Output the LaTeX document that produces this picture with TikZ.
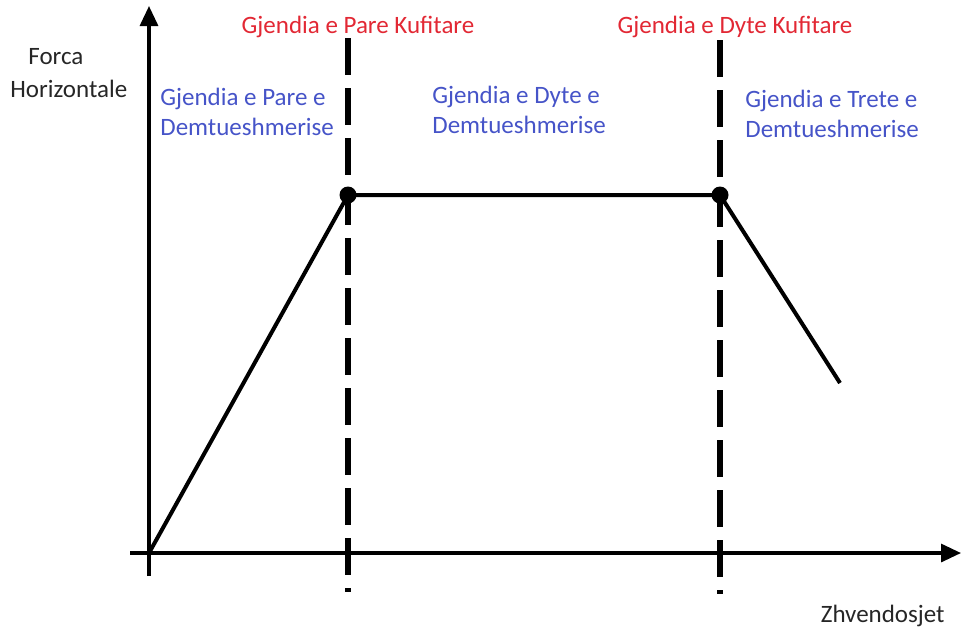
\documentclass[tikz,border=0pt]{standalone}
\usepackage{fontspec}
\setmainfont{Carlito}
\usetikzlibrary{arrows.meta}
\definecolor{limitred}{RGB}{226,40,52}
\definecolor{stateblue}{RGB}{70,84,200}
\tikzset{
  axis/.style={line width=1.6pt,-{Triangle[length=10pt,width=9pt]}},
  curve/.style={line width=2pt,line join=miter},
  limitline/.style={line width=3pt,dash pattern=on 18.5pt off 6.5pt},
  kink/.style={circle,fill=black,inner sep=0pt,minimum size=8.5pt},
  limitlabel/.style={text=limitred,font=\fontsize{12.5}{15}\selectfont,inner sep=0pt},
  statelabel/.style={text=stateblue,font=\fontsize{12.5}{15}\selectfont,align=left,inner sep=0pt,anchor=north west},
  axislabel/.style={text=black!85,font=\fontsize{12.5}{15}\selectfont,inner sep=0pt}
}
\begin{document}
\begin{tikzpicture}[x=0.5pt,y=-0.5pt]
  \useasboundingbox (0,0) rectangle (961,628);
  % axes
  \coordinate (o) at (149,553);
  \coordinate (ybot) at (149,576);
  \coordinate (ytop) at (149,6);
  \coordinate (xleft) at (130,553);
  \coordinate (xright) at (961,553);
  \draw[axis] (ybot) -- (ytop);
  \draw[axis] (xleft) -- (xright);
  % limit lines
  \coordinate (l1top) at (348,38);
  \coordinate (l1bot) at (348,592);
  \coordinate (l2top) at (720,40);
  \coordinate (l2bot) at (720,594);
  \draw[limitline] (l1top) -- (l1bot);
  \draw[limitline] (l2top) -- (l2bot);
  % force-displacement curve
  \node[kink] (k1) at (348,195) {};
  \node[kink] (k2) at (720,195) {};
  \coordinate (e) at (840,383);
  \draw[curve] (o) -- (k1.center) -- (k2.center) -- (e);
  % labels
  \node[axislabel,anchor=base west] (fy1) at (28,64) {Forca};
  \node[axislabel,anchor=base west] (fy2) at (10,97) {Horizontale};
  \node[axislabel,anchor=base east] (fx) at (945,622) {Zhvendosjet};
  \node[limitlabel,anchor=base] (lab1) at (358,33) {Gjendia e Pare Kufitare};
  \node[limitlabel,anchor=base] (lab2) at (735,33) {Gjendia e Dyte Kufitare};
  \node[statelabel] (s1) at (160,88) {Gjendia e Pare e\\Demtueshmerise};
  \node[statelabel] (s2) at (432,86) {Gjendia e Dyte e\\Demtueshmerise};
  \node[statelabel] (s3) at (745,90) {Gjendia e Trete e\\Demtueshmerise};
\end{tikzpicture}
\end{document}
